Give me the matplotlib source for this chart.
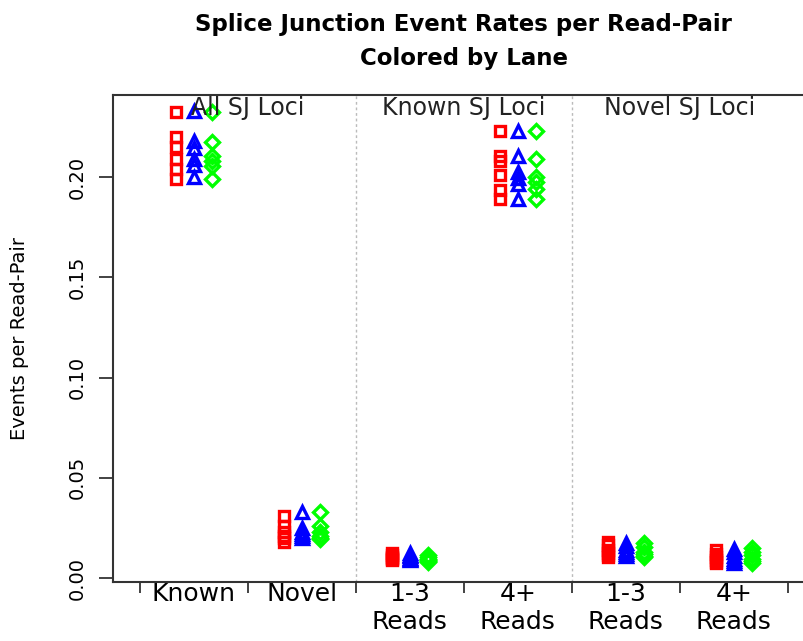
import numpy as np
import matplotlib
matplotlib.use("Agg")
import matplotlib.pyplot as plt

# categories along the x axis (label shown under each group)
categories = ["Known", "Novel", "1-3\nReads", "4+\nReads", "1-3\nReads", "4+\nReads"]
sections = ["All SJ Loci", "Known SJ Loci", "Novel SJ Loci"]

# event rates per read-pair, one list per lane for each category
lane1 = [
    [0.2325, 0.220, 0.215, 0.209, 0.204, 0.199],
    [0.031, 0.026, 0.023, 0.021, 0.020, 0.018],
    [0.0125, 0.0115, 0.0105, 0.010, 0.0095, 0.009],
    [0.223, 0.2105, 0.208, 0.201, 0.1935, 0.189],
    [0.018, 0.0165, 0.014, 0.0125, 0.0115, 0.0105],
    [0.014, 0.012, 0.0105, 0.009, 0.008, 0.0075],
]
lane2 = [
    [0.233, 0.218, 0.2145, 0.209, 0.206, 0.200],
    [0.033, 0.025, 0.023, 0.022, 0.021, 0.020],
    [0.0125, 0.0115, 0.011, 0.010, 0.0095, 0.009],
    [0.223, 0.2105, 0.2025, 0.1995, 0.1965, 0.189],
    [0.0175, 0.016, 0.014, 0.013, 0.012, 0.011],
    [0.0145, 0.013, 0.011, 0.0095, 0.0085, 0.0075],
]
lane3 = [
    [0.2325, 0.2175, 0.2105, 0.208, 0.2055, 0.199],
    [0.033, 0.026, 0.023, 0.021, 0.020, 0.0195],
    [0.0115, 0.0105, 0.0095, 0.009, 0.0085, 0.008],
    [0.223, 0.209, 0.200, 0.1975, 0.194, 0.189],
    [0.0175, 0.0155, 0.013, 0.012, 0.011, 0.0105],
    [0.015, 0.013, 0.0115, 0.0095, 0.0085, 0.0075],
]

lanes = [lane1, lane2, lane3]
lane_colors = ["#ff0000", "#0000ff", "#00ff00"]
lane_markers = ["s", "^", "D"]
lane_sizes = [7.5, 8.5, 7.5]
offsets = [-0.17, 0.0, 0.17]

fig = plt.figure(figsize=(8.04, 6.41), dpi=100)
ax = fig.add_axes([0.1405, 0.092, 0.873, 0.7598])

for lane, col, mk, ms, off in zip(lanes, lane_colors, lane_markers, lane_sizes, offsets):
    for i, vals in enumerate(lane):
        xs = np.full(len(vals), i + 1 + off)
        ax.plot(xs, vals, linestyle="none", marker=mk, markersize=ms,
                markerfacecolor="none", markeredgecolor=col, markeredgewidth=2.4)

# section separators
for xv in [2.5, 4.5]:
    ax.axvline(xv, color="#bbbbbb", linestyle=(0, (2, 2)), linewidth=1)

for k, s in enumerate(sections):
    ax.text(1.5 + 2 * k, 0.2405, s, ha="center", va="top", fontsize=17, color="#222222")

ax.set_xlim(0.25, 6.75)
ax.set_ylim(-0.002, 0.2409)

ax.set_xticks(np.arange(0.5, 7, 1.0))
ax.set_xticklabels([])
ax.set_xticks(np.arange(1, 7), minor=True)
ax.set_xticklabels(categories, minor=True, fontsize=18, va="top", linespacing=1.2)
ax.tick_params(axis="x", which="minor", length=0, pad=0)
ax.tick_params(axis="x", which="major", length=8, width=1.2, color="#222222")

yt = [0.0, 0.05, 0.10, 0.15, 0.20]
ax.set_yticks(yt)
ax.set_yticklabels(["%.2f" % v for v in yt], rotation=90, va="center", fontsize=14)
ax.tick_params(axis="y", length=10, width=1.2, color="#222222", pad=9)
ax.set_ylabel("Events per Read-Pair", fontsize=14, labelpad=28)

for sp in ax.spines.values():
    sp.set_color("#333333")
    sp.set_linewidth(1.5)
ax.spines["right"].set_visible(False)

fig.text(0.577, 1 - 25 / 641, "Splice Junction Event Rates per Read-Pair",
         ha="center", va="center", fontsize=16.5, fontweight="bold")
fig.text(0.577, 1 - 58 / 641, "Colored by Lane",
         ha="center", va="center", fontsize=16.5, fontweight="bold")

fig.savefig("out.png", dpi=100)
